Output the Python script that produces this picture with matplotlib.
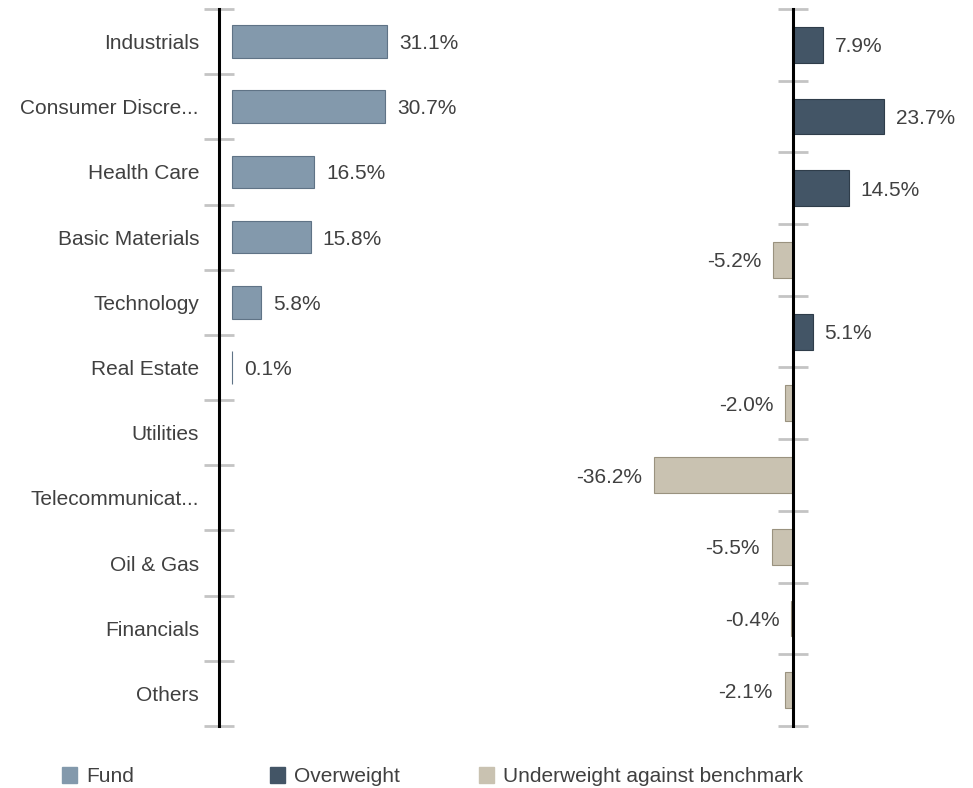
import matplotlib
matplotlib.use("Agg")
import matplotlib.pyplot as plt
import numpy as np

plt.rcParams['font.family'] = ['Liberation Sans', 'DejaVu Sans']

categories = ["Industrials", "Consumer Discre...", "Health Care", "Basic Materials",
              "Technology", "Real Estate", "Utilities", "Telecommunicat...",
              "Oil & Gas", "Financials", "Others"]
fund = [31.1, 30.7, 16.5, 15.8, 5.8, 0.1, None, None, None, None, None]
relative = [7.9, 23.7, 14.5, -5.2, 5.1, -2.0, -36.2, -5.5, -0.4, -2.1]
legend_labels = ["Fund", "Overweight", "Underweight against benchmark"]

C_FUND = "#8399ac"
C_FUND_E = "#5f7386"
C_OVER = "#435566"
C_OVER_E = "#2f3d4a"
C_UNDER = "#c9c2b1"
C_UNDER_E = "#9a927f"
TXT = "#404040"
TICK = "#c4c4c4"
FS = 15

W, H = 973, 788
fig = plt.figure(figsize=(W / 100, H / 100), dpi=100)

y_top, y_bot = 9, 726
ax_b = (H - y_bot) / H
ax_h = (y_bot - y_top) / H

# Left panel
lx0, lx1 = 219, 480
axl = fig.add_axes([lx0 / W, ax_b, (lx1 - lx0) / W, ax_h])
pxp_l = 4.98
xmin_l = -(232 - lx0) / pxp_l
xmax_l = (lx1 - 232) / pxp_l
axl.set_xlim(xmin_l, xmax_l)
n = len(categories)
axl.set_ylim(n - 0.5, -0.5)
ys = np.arange(n)
for i, v in enumerate(fund):
    if v is None:
        continue
    axl.barh(i, v, height=0.5, color=C_FUND, edgecolor=C_FUND_E, linewidth=0.8)
    axl.text(v + 12 / pxp_l, i, f"{v:.1f}%", va="center_baseline", ha="left",
             fontsize=FS, color=TXT)
axl.set_yticks(ys)
axl.set_yticklabels(categories, fontsize=FS, color=TXT)
for t in axl.get_yticklabels():
    t.set_verticalalignment("center_baseline")
axl.set_yticks(np.arange(-0.5, n, 1.0), minor=True)
axl.tick_params(axis="y", which="major", length=0, pad=14.4)
axl.tick_params(axis="y", which="minor", length=22, width=2, color=TICK, direction="inout")
axl.set_xticks([])
for s in ["top", "right", "bottom"]:
    axl.spines[s].set_visible(False)
axl.spines["left"].set_linewidth(2.2)
axl.spines["left"].set_color("black")
axl.spines["left"].set_zorder(5)
axl.patch.set_alpha(0)

# Right panel
rx0, rx1, r0 = 560, 965, 793
axr = fig.add_axes([rx0 / W, ax_b, (rx1 - rx0) / W, ax_h])
pxp_r = 3.83
axr.set_xlim(-(r0 - rx0) / pxp_r, (rx1 - r0) / pxp_r)
m = len(relative)
axr.set_ylim(m - 0.5, -0.5)
for i, v in enumerate(relative):
    if v >= 0:
        axr.barh(i, v, height=0.5, color=C_OVER, edgecolor=C_OVER_E, linewidth=0.8)
        axr.text(v + 12 / pxp_r, i, f"{v:.1f}%", va="center_baseline", ha="left",
                 fontsize=FS, color=TXT)
    else:
        axr.barh(i, v, height=0.5, color=C_UNDER, edgecolor=C_UNDER_E, linewidth=0.8)
        axr.text(v - 12 / pxp_r, i, f"{v:.1f}%", va="center_baseline", ha="right",
                 fontsize=FS, color=TXT)
axr.spines["left"].set_position(("data", 0))
axr.spines["left"].set_linewidth(2.2)
axr.spines["left"].set_color("black")
axr.spines["left"].set_zorder(5)
for s in ["top", "right", "bottom"]:
    axr.spines[s].set_visible(False)
axr.set_xticks([])
axr.set_yticks(np.arange(-0.5, m, 1.0))
axr.set_yticklabels([])
axr.tick_params(axis="y", length=22, width=2, color=TICK, direction="inout")
axr.patch.set_alpha(0)

# Legend
xs = [62, 270, 479]
for hx, lab, col in zip(xs, legend_labels, [C_FUND, C_OVER, C_UNDER]):
    fig.patches.append(plt.Rectangle((hx / W, (H - 783) / H), 15 / W, 16 / H,
                                     transform=fig.transFigure, color=col))
    fig.text((hx + 24) / W, (H - 775) / H, lab, fontsize=FS, color=TXT,
             va="center_baseline", ha="left")

fig.savefig("out.png", dpi=100)
